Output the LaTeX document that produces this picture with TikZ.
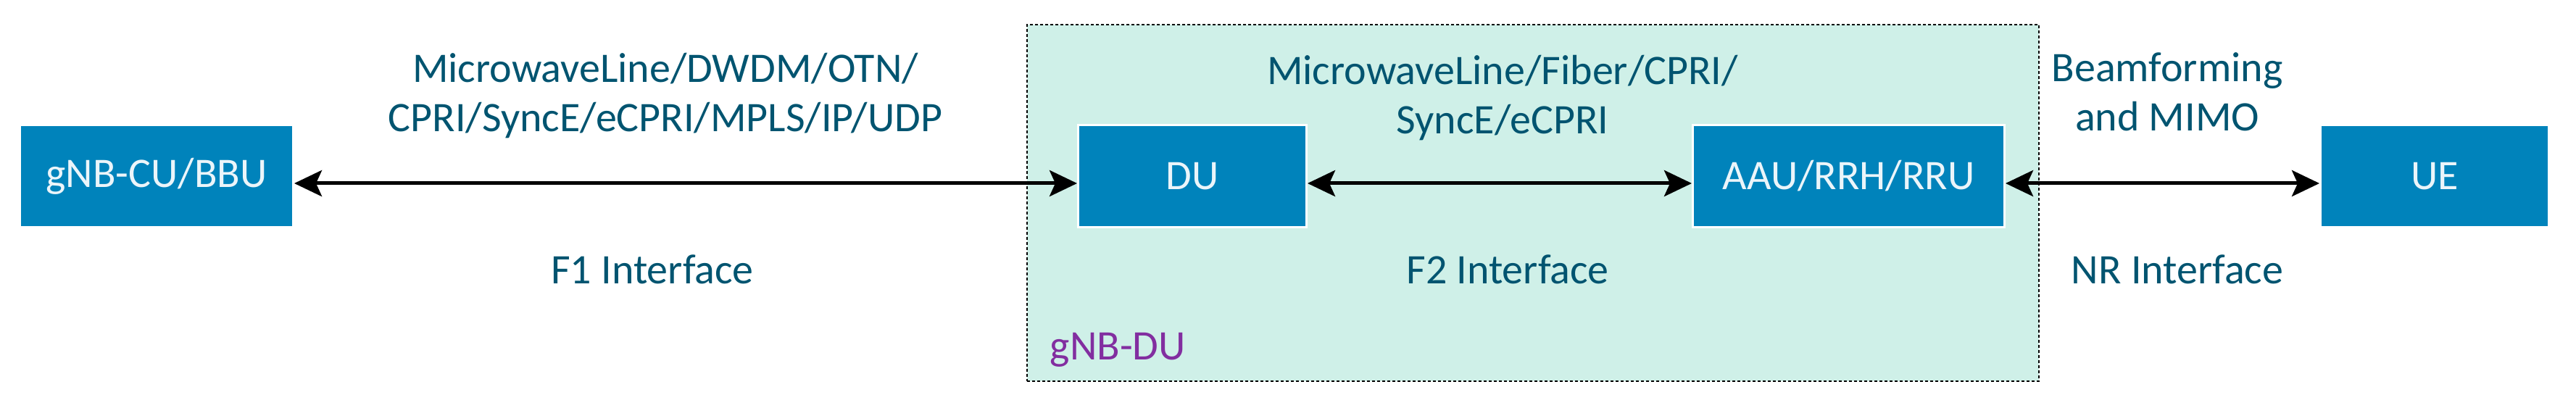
\documentclass[tikz,border=0pt]{standalone}
\usepackage{fontspec}
\setmainfont{Carlito}
\usepackage{tikz}
\usetikzlibrary{arrows.meta}

\definecolor{boxblue}{RGB}{0,131,187}
\definecolor{txtteal}{RGB}{0,84,112}
\definecolor{mint}{RGB}{207,240,232}
\definecolor{duviolet}{RGB}{130,46,160}

\begin{document}
\begin{tikzpicture}[
        unit/.style={draw=white, line width=0.03cm, fill=boxblue, text=white!92!boxblue,
            minimum height=1.41cm, inner sep=0pt, font=\fontsize{16.5}{19.6}\selectfont},
        lbl/.style={text=txtteal, align=center, inner sep=0pt, font=\fontsize{16.5}{19.6}\selectfont},
        link/.style={line width=0.05cm, {Stealth[length=0.38cm,width=0.36cm,inset=0.08cm]}-{Stealth[length=0.38cm,width=0.36cm,inset=0.08cm]}}
    ]
        \useasboundingbox (0,0) rectangle (35.54,5.63);

        \node[draw, fill=mint, line width=0.02cm, dash pattern=on 0.04cm off 0.03cm,
            minimum width=13.96cm, minimum height=4.92cm, inner sep=0pt] (dugroup) at (21.15,2.83) {};

        \node[unit, minimum width=3.77cm] (cu) at (2.16,3.20) {gNB-CU/BBU};
        \node[unit, minimum width=3.15cm] (du) at (16.45,3.20) {DU};
        \node[unit, minimum width=4.30cm] (aau) at (25.505,3.20) {AAU/RRH/RRU};
        \node[unit, minimum width=3.15cm] (ue) at (33.59,3.20) {UE};

        \draw[link] ([yshift=-0.1cm]cu.east) -- ([yshift=-0.1cm]du.west);
        \draw[link] ([yshift=-0.1cm]du.east) -- ([yshift=-0.1cm]aau.west);
        \draw[link] ([yshift=-0.1cm]aau.east) -- ([yshift=-0.1cm]ue.west);

        \node[lbl, anchor=base] (f1top) at (9.18,3.81) {MicrowaveLine/DWDM/OTN/\\CPRI/SyncE/eCPRI/MPLS/IP/UDP};
        \node[lbl, anchor=base] (f1) at (9.00,1.71) {F1 Interface};
        \node[lbl, anchor=base] (f2top) at (20.73,3.78) {MicrowaveLine/Fiber/CPRI/\\SyncE/eCPRI};
        \node[lbl, anchor=base] (f2) at (20.80,1.71) {F2 Interface};
        \node[lbl, anchor=base] (nrtop) at (29.90,3.82) {Beamforming\\and MIMO};
        \node[lbl, anchor=base] (nr) at (30.04,1.71) {NR Interface};
        \node[lbl, text=duviolet, anchor=base west] (dulbl) at (14.48,0.67) {gNB-DU};
\end{tikzpicture}
\end{document}
